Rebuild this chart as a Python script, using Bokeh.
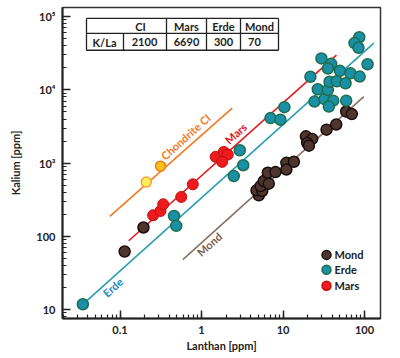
from math import log10
from bokeh.plotting import figure
from bokeh.models import Range1d, LogTicker
from bokeh.core.properties import value
from bokeh.embed import file_html
from bokeh.resources import INLINE

# ---------------- data ----------------
mond_la = [0.114, 0.194, 5.05, 4.73, 5.56, 5.30, 5.81, 6.69, 6.51, 8.09, 11.0, 13.6, 11.0,
           19.1, 22.8, 19.8, 20.8, 34.2, 45.0, 59.6, 69.8]
mond_k = [62, 132, 363, 425, 416, 486, 568, 524, 738, 753, 1009, 1042, 818,
          2320, 2140, 1880, 1730, 2860, 3370, 5060, 4670]

erde_la = [0.035, 0.46, 0.49, 2.95, 3.25, 2.49, 7.03, 9.3, 10.4, 24.3, 32.3, 41.3, 36.5, 59.6,
           26.7, 35.5, 21.7, 37.2, 45.7, 58.5, 29.6, 39.0, 35.6, 50.0, 67.3, 87.3, 109, 86.3, 75.3, 84.3]
erde_k = [11.8, 190, 139, 1497, 935, 664, 4120, 3910, 5810, 6920, 7460, 7130, 5910, 7130,
          10190, 9970, 15100, 12900, 13100, 12300, 26900, 22700, 19600, 18200, 16800, 15200, 22400, 52300, 43600, 37600]

mars_la = [0.255, 0.314, 0.339, 0.564, 0.782, 1.49, 1.88, 2.10, 1.79]
mars_k = [194, 222, 274, 345, 513, 1220, 1420, 1310, 1040]

ci_la = [0.21, 0.314]
ci_k = [550, 908]

# reference lines (end points)
ci_line_la, ci_line_k = [0.075, 2.38], [187, 5625]
mars_line_la, mars_line_k = [0.128, 45.3], [87, 29800]
erde_line_la, erde_line_k = [0.035, 130], [11.8, 43600]
mond_line_la, mond_line_k = [0.59, 98], [48.1, 8090]

# table
table_head = ["CI", "Mars", "Erde", "Mond"]
table_row_label = "K/La"
table_vals = ["2100", "6690", "300", "70"]

legend_labels = ["Mond", "Erde", "Mars"]

# ---------------- styling / layout ----------------
X0, X1 = 0.0197, 157.1
Y0, Y1 = 7.548, 1.333e5
FL, FR, FT, FB = 62, 380, 7, 320  # frame in page pixels


def px2x(px):
    return 10 ** (log10(X0) + (px - FL) / (FR - FL) * (log10(X1) - log10(X0)))


def py2y(py):
    return 10 ** (log10(Y0) + (FB - py) / (FB - FT) * (log10(Y1) - log10(Y0)))


FONT = "Lato"
FS = "11px"
C_MOND, C_MOND_L = "#4e3530", "#1a0e0c"
C_ERDE, C_ERDE_L = "#1990a6", "#1f6e4e"
C_MARS, C_MARS_L = "#ee1a1e", "#c01010"
C_CI = "#f07a22"

p = figure(width=392, height=354, x_axis_type="log", y_axis_type="log",
           x_range=Range1d(X0, X1), y_range=Range1d(Y0, Y1),
           output_backend="svg", toolbar_location=None,
           min_border_left=62, min_border_right=12, min_border_top=7, min_border_bottom=34)
p.background_fill_color = "white"
p.border_fill_color = "white"
p.xgrid.visible = False
p.ygrid.visible = False
p.outline_line_color = "#333333"
p.outline_line_width = 1.5

for ax in (p.xaxis[0], p.yaxis[0]):
    ax.ticker = LogTicker(num_minor_ticks=10)
    ax.axis_line_color = "#222222"
    ax.axis_line_width = 2
    ax.major_tick_in = 8
    ax.major_tick_out = 0
    ax.minor_tick_in = 4
    ax.minor_tick_out = 0
    ax.major_tick_line_color = "#222222"
    ax.minor_tick_line_color = "#222222"
    ax.major_tick_line_width = 1.5
    ax.minor_tick_line_width = 1.2
    ax.major_label_text_font = FONT
    ax.major_label_text_font_size = FS
    ax.major_label_text_font_style = "bold"
    ax.major_label_text_color = "#222222"
    ax.axis_label_text_font = FONT
    ax.axis_label_text_font_size = FS
    ax.axis_label_text_font_style = "bold"
    ax.axis_label_text_color = "#222222"

p.xaxis.axis_label = "Lanthan [ppm]"
p.yaxis.axis_label = "Kalium [ppm]"
p.xaxis.major_label_standoff = 7
p.xaxis.axis_label_standoff = 2
p.yaxis.major_label_standoff = 7
p.yaxis.axis_label_standoff = 11
p.xaxis.major_label_overrides = {0.1: "0.1", 1: "1", 10: "10", 100: "100"}
p.yaxis.major_label_overrides = {10: "10", 100: "100", 1000: "10³", 10000: "10⁴", 100000: "10⁵"}

# lines
p.line(ci_line_la, ci_line_k, line_color=C_CI, line_width=1.6)
p.line(mars_line_la, mars_line_k, line_color="#e8161c", line_width=1.6)
p.line(erde_line_la, erde_line_k, line_color="#2a9db4", line_width=1.6)
p.line(mond_line_la, mond_line_k, line_color="#8a7262", line_width=1.6)

# points
p.scatter(mond_la, mond_k, size=11, fill_color=C_MOND, line_color=C_MOND_L, line_width=1.5)
p.scatter(erde_la, erde_k, size=11, fill_color=C_ERDE, line_color=C_ERDE_L, line_width=1.5)
p.scatter(mars_la, mars_k, size=11, fill_color=C_MARS, line_color=C_MARS_L, line_width=1)
p.scatter(ci_la, ci_k, size=10, fill_color=["#fff05a", "#ffc21a"], line_color=["#f5a23a", "#f07a10"], line_width=1.5)

# line labels (rotated along lines)
ANG = 42
lab_txt = ["Chondrite CI", "Mars", "Erde", "Mond"]
lab_px = [(162, 158), (226, 142), (104, 296), (198, 255)]
lab_col = [C_CI, "#e01418", "#1a8cc0", "#7a5e50"]
for t, (x, y), c in zip(lab_txt, lab_px, lab_col):
    p.text([px2x(x)], [py2y(y)], text=[t], angle=ANG, angle_units="deg",
           text_font=value(FONT), text_font_size=FS, text_font_style="bold",
           text_color=c, text_align="left", text_baseline="middle")

# table
tl, tr, tt, tm, tb = 86, 278, 18, 33, 50
seg_x0 = [tl, tl, tl, tl, tr, 166, 206, 240, 123]
seg_x1 = [tr, tr, tr, tl, tr, 166, 206, 240, 123]
seg_y0 = [tt, tm, tb, tt, tt, tt, tt, tt, tm]
seg_y1 = [tt, tm, tb, tb, tb, tb, tb, tb, tb]
p.segment([px2x(v) for v in seg_x0], [py2y(v) for v in seg_y0],
          [px2x(v) for v in seg_x1], [py2y(v) for v in seg_y1],
          line_color="#222222", line_width=1.3)
head_px = [140, 186, 223, 259]
val_px = [144, 186, 223, 254]
p.text([px2x(v) for v in head_px], [py2y(25.8)] * 4, text=table_head,
       text_font=value(FONT), text_font_size=FS, text_font_style="bold",
       text_color="#222222", text_align="center", text_baseline="middle")
p.text([px2x(v) for v in val_px], [py2y(41.8)] * 4, text=table_vals,
       text_font=value(FONT), text_font_size=FS, text_font_style="bold",
       text_color="#222222", text_align="center", text_baseline="middle")
p.text([px2x(104)], [py2y(41.8)], text=[table_row_label],
       text_font=value(FONT), text_font_size=FS, text_font_style="bold",
       text_color="#222222", text_align="center", text_baseline="middle")

# legend (drawn manually)
leg_py = [256, 271, 287]
p.scatter([px2x(326)] * 3, [py2y(v) for v in leg_py], size=9,
          fill_color=[C_MOND, C_ERDE, C_MARS], line_color=[C_MOND_L, C_ERDE_L, C_MARS_L], line_width=1.5)
p.text([px2x(334)] * 3, [py2y(v) for v in leg_py], text=legend_labels,
       text_font=value(FONT), text_font_size=FS, text_font_style="bold",
       text_color="#222222", text_align="left", text_baseline="middle")

open("out.html", "w").write(file_html(p, INLINE))
